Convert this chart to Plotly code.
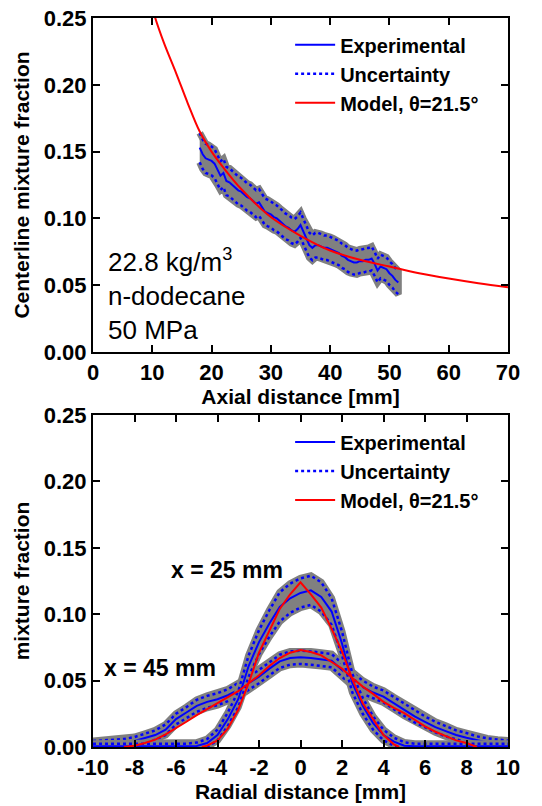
import plotly.graph_objects as go

# ---- top panel: centerline mixture fraction vs axial distance ----
axial_x = [18.0, 18.5, 19.0, 19.5, 20.0, 20.5, 21.0, 21.5, 22.0, 22.5,
           23.0, 23.5, 24.0, 24.5, 25.0, 25.5, 26.0, 26.5, 27.0, 27.5,
           28.0, 28.5, 29.0, 29.5, 30.0, 30.5, 31.0, 31.5, 32.0, 32.5,
           33.0, 33.5, 34.0, 34.5, 35.0, 35.5, 36.0, 36.5, 37.0, 37.5,
           38.0, 38.5, 39.0, 39.5, 40.0, 40.5, 41.0, 41.5, 42.0, 42.5,
           43.0, 43.5, 44.0, 44.5, 45.0, 45.5, 46.0, 46.5, 47.0, 47.5,
           48.0, 48.5, 49.0, 49.5, 50.0, 50.5, 51.0, 51.5]
axial_exp = [0.153, 0.148, 0.145, 0.144, 0.143, 0.141, 0.136, 0.132, 0.134, 0.128,
             0.127, 0.125, 0.123, 0.121, 0.120, 0.118, 0.116, 0.115, 0.113, 0.111,
             0.112, 0.108, 0.105, 0.104, 0.103, 0.101, 0.100, 0.098, 0.096, 0.094,
             0.093, 0.091, 0.090, 0.092, 0.095, 0.090, 0.085, 0.080, 0.078, 0.080,
             0.080, 0.079, 0.078, 0.078, 0.077, 0.076, 0.075, 0.074, 0.072, 0.071,
             0.069, 0.068, 0.067, 0.067, 0.068, 0.068, 0.069, 0.069, 0.070, 0.066,
             0.061, 0.064, 0.063, 0.062, 0.059, 0.057, 0.054, 0.052]
axial_unc = [0.0110, 0.0110, 0.0109, 0.0109, 0.0108, 0.0108, 0.0107, 0.0107, 0.0106, 0.0106,
             0.0105, 0.0105, 0.0104, 0.0104, 0.0103, 0.0103, 0.0102, 0.0102, 0.0101, 0.0101,
             0.0100, 0.0100, 0.0099, 0.0099, 0.0098, 0.0098, 0.0097, 0.0097, 0.0096, 0.0096,
             0.0095, 0.0095, 0.0095, 0.0095, 0.0095, 0.0094, 0.0094, 0.0093, 0.0093, 0.0093,
             0.0092, 0.0092, 0.0092, 0.0092, 0.0091, 0.0091, 0.0091, 0.0091, 0.0090, 0.0090,
             0.0090, 0.0090, 0.0090, 0.0089, 0.0089, 0.0089, 0.0089, 0.0089, 0.0089, 0.0089,
             0.0088, 0.0088, 0.0088, 0.0088, 0.0088, 0.0088, 0.0088, 0.0088]
model_ax_x = [10.0, 10.5, 12.0, 14.0, 16.0, 18.0, 20.0, 22.0, 25.0, 30.0,
              35.0, 40.0, 45.0, 50.0, 55.0, 60.0, 65.0, 70.0]
model_ax_y = [0.258, 0.250, 0.231, 0.209, 0.186, 0.165, 0.150, 0.138, 0.122, 0.101,
              0.087, 0.076, 0.069, 0.064, 0.059, 0.055, 0.0515, 0.0485]

# ---- bottom panel: radial profiles ----
radial_x = [-10.0, -9.5, -9.0, -8.5, -8.0, -7.5, -7.0, -6.5, -6.0, -5.5,
            -5.0, -4.5, -4.0, -3.5, -3.0, -2.5, -2.0, -1.5, -1.0, -0.5,
            0.0, 0.5, 1.0, 1.5, 2.0, 2.5, 3.0, 3.5, 4.0, 4.5,
            5.0, 5.5, 6.0, 6.5, 7.0, 7.5, 8.0, 8.5, 9.0, 9.5, 10.0]
exp_25 = [0.0005, 0.0005, 0.0005, 0.0005, 0.0005, 0.0005, 0.0005, 0.0005, 0.0005, 0.0005,
          0.0008, 0.003, 0.009, 0.021, 0.036, 0.061, 0.079, 0.093, 0.1055, 0.112,
          0.116, 0.118, 0.113, 0.102, 0.078, 0.048, 0.031, 0.018, 0.009, 0.004,
          0.001, 0.0005, 0.0005, 0.0005, 0.0005, 0.0005, 0.0005, 0.0005, 0.0005, 0.0005, 0.0005]
unc_25 = [0.002, 0.002, 0.002, 0.002, 0.002, 0.002, 0.002, 0.002, 0.002, 0.002,
          0.0025, 0.003, 0.004, 0.005, 0.006, 0.008, 0.009, 0.010, 0.011, 0.011,
          0.011, 0.011, 0.011, 0.010, 0.009, 0.007, 0.006, 0.005, 0.004, 0.003,
          0.0025, 0.002, 0.002, 0.002, 0.002, 0.002, 0.002, 0.002, 0.002, 0.002, 0.002]
exp_45 = [0.0015, 0.002, 0.0025, 0.003, 0.0045, 0.0065, 0.009, 0.013, 0.021, 0.026,
          0.031, 0.034, 0.036, 0.039, 0.043, 0.048, 0.053, 0.059, 0.0645, 0.067,
          0.0675, 0.067, 0.066, 0.065, 0.058, 0.051, 0.045, 0.041, 0.038, 0.033,
          0.028, 0.023, 0.019, 0.015, 0.012, 0.009, 0.007, 0.005, 0.0035, 0.0025, 0.0018]
unc_45 = [0.003, 0.003, 0.003, 0.003, 0.003, 0.0035, 0.0035, 0.004, 0.004, 0.004,
          0.0045, 0.0045, 0.0045, 0.0045, 0.005, 0.005, 0.005, 0.005, 0.005, 0.005,
          0.005, 0.005, 0.005, 0.005, 0.005, 0.005, 0.005, 0.0045, 0.0045, 0.0045,
          0.0045, 0.0045, 0.004, 0.004, 0.004, 0.0035, 0.0035, 0.003, 0.003, 0.003, 0.003]
model_25_x = [-4.75, -4.5, -4.0, -3.5, -3.0, -2.5, -2.0, -1.5, -1.0, -0.5, 0.0,
              0.5, 1.0, 1.5, 2.0, 2.5, 3.0, 3.5, 4.0, 4.5, 4.75]
model_25_y = [0.0, 0.001, 0.005, 0.014, 0.028, 0.048, 0.071, 0.088, 0.104, 0.115, 0.124,
              0.115, 0.105, 0.089, 0.072, 0.051, 0.033, 0.021, 0.009, 0.002, 0.0]
model_45_x = [-8.5, -8.0, -7.5, -7.0, -6.5, -6.0, -5.5, -5.0, -4.5, -4.0, -3.5, -3.0,
              -2.5, -2.0, -1.5, -1.0, -0.5, 0.0, 0.5, 1.0, 1.5, 2.0, 2.5, 3.0,
              3.5, 4.0, 4.5, 5.0, 5.5, 6.0, 6.5, 7.0, 7.5, 8.0, 8.5]
model_45_y = [0.0, 0.001, 0.003, 0.0055, 0.0095, 0.014, 0.019, 0.024, 0.0285, 0.033, 0.0375, 0.042,
              0.048, 0.054, 0.061, 0.067, 0.071, 0.073, 0.0715, 0.069, 0.064, 0.059, 0.052, 0.0455,
              0.040, 0.034, 0.0295, 0.0255, 0.0205, 0.0155, 0.0115, 0.008, 0.005, 0.003, 0.0]

top_xticks = [0, 10, 20, 30, 40, 50, 60, 70]
y_ticks = [0.0, 0.05, 0.10, 0.15, 0.20, 0.25]
y_ticktext = ["0.00", "0.05", "0.10", "0.15", "0.20", "0.25"]
bot_xticks = [-10, -8, -6, -4, -2, 0, 2, 4, 6, 8, 10]
bot_xticktext = ["-10", "-8", "-6", "-4", "-2", "0", "2", "4", "6", "8", "10"]

FONT = "Liberation Sans, Arial, sans-serif"
BLUE = "#0000ff"
RED = "#ff0000"
GRAY = "#808080"

fig = go.Figure()


def add_exp(x, mid, unc, xa, ya, legend, show):
    upper = [m + u for m, u in zip(mid, unc)]
    lower = [m - u for m, u in zip(mid, unc)]
    # grey shaded band with a thick grey outline (halo)
    fig.add_trace(go.Scatter(
        x=x + x[::-1], y=upper + lower[::-1], fill="toself", fillcolor=GRAY,
        mode="lines", line=dict(color=GRAY, width=7), hoverinfo="skip",
        showlegend=False, xaxis=xa, yaxis=ya,
    ))
    for bound in (upper, lower):
        fig.add_trace(go.Scatter(
            x=x, y=bound, mode="lines", line=dict(color=BLUE, width=2.5, dash="dot"),
            showlegend=False, xaxis=xa, yaxis=ya,
        ))
    fig.add_trace(go.Scatter(
        x=x, y=mid, mode="lines", line=dict(color=BLUE, width=2),
        name="Experimental", legend=legend, showlegend=show, legendrank=1,
        xaxis=xa, yaxis=ya,
    ))


# top panel
add_exp(axial_x, axial_exp, axial_unc, "x", "y", "legend", True)
fig.add_trace(go.Scatter(
    x=[None], y=[None], mode="lines", line=dict(color=BLUE, width=2.5, dash="dot"),
    name="Uncertainty", legend="legend", legendrank=2, xaxis="x", yaxis="y",
))
fig.add_trace(go.Scatter(
    x=model_ax_x, y=model_ax_y, mode="lines", line=dict(color=RED, width=2, shape="spline"),
    name="Model, θ=21.5°", legend="legend", legendrank=3, xaxis="x", yaxis="y",
))

# bottom panel
add_exp(radial_x, exp_45, unc_45, "x2", "y2", "legend2", False)
add_exp(radial_x, exp_25, unc_25, "x2", "y2", "legend2", True)
fig.add_trace(go.Scatter(
    x=[None], y=[None], mode="lines", line=dict(color=BLUE, width=2.5, dash="dot"),
    name="Uncertainty", legend="legend2", legendrank=2, xaxis="x2", yaxis="y2",
))
fig.add_trace(go.Scatter(
    x=model_45_x, y=model_45_y, mode="lines", line=dict(color=RED, width=2),
    showlegend=False, xaxis="x2", yaxis="y2",
))
fig.add_trace(go.Scatter(
    x=model_25_x, y=model_25_y, mode="lines", line=dict(color=RED, width=2),
    name="Model, θ=21.5°", legend="legend2", legendrank=3, xaxis="x2", yaxis="y2",
))

axis_style = dict(
    showline=True, linecolor="black", linewidth=2, mirror="ticks",
    ticks="inside", ticklen=7, tickwidth=2, tickcolor="black",
    showgrid=False, zeroline=False, automargin=False, ticklabeloverflow="allow",
    tickfont=dict(family=FONT, size=22, color="black", weight="bold"),
)
title_font = dict(family=FONT, size=21, color="black", weight="bold")
legend_style = dict(
    bgcolor="rgba(0,0,0,0)", borderwidth=0, xanchor="left", yanchor="top",
    font=dict(family=FONT, size=20, color="black", weight="bold"),
    tracegroupgap=0, itemwidth=40,
)

# page body adds an 8px offset, so the figure is 8px smaller on each axis
fig.update_layout(
    width=534, height=798,
    margin=dict(l=85, r=34, t=10, b=59, autoexpand=False),
    paper_bgcolor="white", plot_bgcolor="white",
    xaxis=dict(domain=[0, 1], range=[0, 70], tickvals=top_xticks, anchor="y",
               title=dict(text="Axial distance [mm]", font=title_font, standoff=2), **axis_style),
    yaxis=dict(domain=[0.5418, 1.0], range=[0, 0.25], tickvals=y_ticks, ticktext=y_ticktext,
               anchor="x", title=dict(text="Centerline mixture fraction", font=title_font, standoff=8),
               **axis_style),
    xaxis2=dict(domain=[0, 1], range=[-10, 10], tickvals=bot_xticks, ticktext=bot_xticktext,
                anchor="y2", title=dict(text="Radial distance [mm]", font=title_font, standoff=2),
                **axis_style),
    yaxis2=dict(domain=[0, 0.4554], range=[0, 0.25], tickvals=y_ticks, ticktext=y_ticktext,
                anchor="x2", title=dict(text="mixture fraction", font=title_font, standoff=8),
                **axis_style),
    legend=dict(x=0.475, y=0.99, **legend_style),
    legend2=dict(x=0.475, y=0.445, **legend_style),
    annotations=[
        dict(x=2.2, y=0.004, xref="x", yref="y", xanchor="left", yanchor="bottom",
             align="left", showarrow=False,
             text="22.8 kg/m<sup>3</sup><br>n-dodecane<br>50 MPa",
             font=dict(family=FONT, size=26, color="black")),
        dict(x=-3.54, y=0.133, xref="x2", yref="y2", showarrow=False, text="x = 25 mm",
             font=dict(family=FONT, size=23, color="black", weight="bold")),
        dict(x=-6.77, y=0.0595, xref="x2", yref="y2", showarrow=False, text="x = 45 mm",
             font=dict(family=FONT, size=23, color="black", weight="bold")),
    ],
)

fig.write_html("out.html")
